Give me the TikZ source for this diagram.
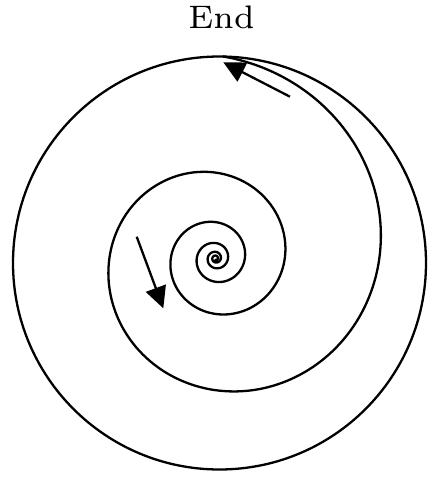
\documentclass[tikz,border=0pt]{standalone}
\usepackage{fontspec}
\newfontfamily\endfont{lmroman7-regular.otf}
\usetikzlibrary{arrows.meta}
\begin{document}
\begin{tikzpicture}[x=0.5pt,y=-0.5pt,
  curve/.style={line width=1.15pt, line join=round},
  arr/.style={line width=1.15pt, -{Triangle[length=10.75pt,width=10.5pt]}},
  lbl/.style={font=\endfont\fontsize{16.3}{20}\selectfont, inner sep=0pt, anchor=base}]
\useasboundingbox (0,0) rectangle (436,477);
\node[lbl] (endlbl) at (221.5,28.5) {End};
\draw[curve] (219.5,263) circle[radius=103.25pt];
\draw[curve] plot[smooth, samples=700, domain=-1930:88, variable=\t]
  ({215.7 + 202*exp(0.0024*(\t-88))*cos(\t)}, {258.3 - 202*exp(0.0024*(\t-88))*sin(\t)});
\coordinate (a1s) at (290,96.7);
\coordinate (a1e) at (223.3,62.3);
\coordinate (a2s) at (136.7,236.7);
\coordinate (a2e) at (163.3,308.3);
\draw[arr] (a1s) -- (a1e);
\draw[arr] (a2s) -- (a2e);
\end{tikzpicture}
\end{document}
